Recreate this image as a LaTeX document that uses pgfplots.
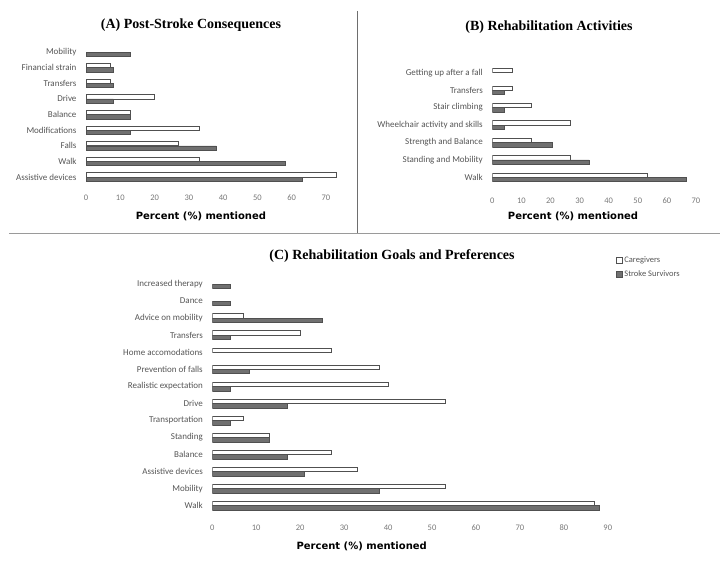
\documentclass[border=0pt]{standalone}
\usepackage{fontspec}
\setmainfont{Carlito}
\newfontfamily\titlefont{Liberation Serif}
\newfontfamily\heavyfont{DejaVu Sans}
\usepackage{pgfplots}
\pgfplotsset{compat=1.18}

\definecolor{survgray}{RGB}{112,112,112}
\definecolor{edgegray}{RGB}{80,80,80}
\definecolor{labgray}{RGB}{85,85,85}
\definecolor{numgray}{RGB}{120,120,120}
\definecolor{framegray}{RGB}{110,110,110}

\pgfplotsset{
  panel/.style={
    scale only axis,
    axis line style={draw=none},
    major tick length=0pt,
    xmin=0,
    ymin=-0.5,
    /pgf/number format/assume math mode=true,
    yticklabel style={font=\fontsize{9}{10}\selectfont, text=labgray, xshift=-6pt},
    xticklabel style={font=\fontsize{8.5}{10}\selectfont, text=numgray},
    xlabel={\heavyfont\bfseries Percent (\%) mentioned},
    x label style={font=\fontsize{10}{12}\selectfont, anchor=center},
  },
  care/.style={xbar, fill=white, draw=edgegray, line width=0.5pt},
  surv/.style={xbar, fill=survgray, draw=edgegray, line width=0.5pt},
}

\begin{document}
\begin{tikzpicture}
\useasboundingbox (0pt,0pt) rectangle (727pt,562pt);

% frame lines between the panels
\draw[framegray, line width=0.8pt] (357pt,551pt) -- (357pt,329pt);
\draw[framegray!70, line width=0.8pt] (9pt,329pt) -- (720pt,329pt);

% titles
\node[font=\titlefont\bfseries\fontsize{14}{16}\selectfont] at (191pt,537pt) {(A) Post-Stroke Consequences};
\node[font=\titlefont\bfseries\fontsize{14}{16}\selectfont] at (549pt,535pt) {(B) Rehabilitation Activities};
\node[font=\titlefont\bfseries\fontsize{14}{16}\selectfont] at (392pt,306pt) {(C) Rehabilitation Goals and Preferences};

% (A)
\begin{axis}[panel,
  at={(86pt,377.2pt)}, anchor=south west,
  width=257.1pt, height=140.6pt,
  xmax=75, ymax=8.5,
  xtick={0,10,...,70},
  ytick={0,...,8},
  yticklabels={Assistive devices,Walk,Falls,Modifications,Balance,Drive,Transfers,Financial strain,Mobility},
  xticklabel style={yshift=-6.5pt},
  x label style={at={(axis description cs:0.447,0)}, yshift=-32pt},
]
\addplot[care, bar width=0.27, bar shift=0.14] coordinates {
  (73,0) (33,1) (27,2) (33,3) (13,4) (20,5) (7,6) (7,7)
};
\addplot[surv, bar width=0.27, bar shift=-0.14] coordinates {
  (63,0) (58,1) (38,2) (13,3) (13,4) (8,5) (8,6) (8,7) (13,8)
};
\end{axis}

% (B)
\begin{axis}[panel,
  at={(492.3pt,376pt)}, anchor=south west,
  width=218.2pt, height=122pt,
  xmax=75, ymax=6.5,
  xtick={0,10,...,70},
  ytick={0,...,6},
  yticklabels={Walk,Standing and Mobility,Strength and Balance,Wheelchair activity and skills,Stair climbing,Transfers,Getting up after a fall},
  xticklabel style={yshift=-8.5pt},
  x label style={at={(axis description cs:0.37,0)}, yshift=-30pt},
]
\addplot[care, bar width=0.25, bar shift=0.125] coordinates {
  (53.3,0) (26.7,1) (13.3,2) (26.7,3) (13.3,4) (6.7,5) (6.7,6)
};
\addplot[surv, bar width=0.25, bar shift=-0.125] coordinates {
  (66.7,0) (33.3,1) (20.5,2) (4.2,3) (4.2,4) (4.2,5)
};
\end{axis}

% (C)
\begin{axis}[panel,
  at={(212.3pt,47.8pt)}, anchor=south west,
  width=439.4pt, height=238.7pt,
  xmax=100, ymax=13.5,
  xtick={0,10,...,90},
  ytick={0,...,13},
  yticklabels={Walk,Mobility,Assistive devices,Balance,Standing,Transportation,Drive,Realistic expectation,Prevention of falls,Home accomodations,Transfers,Advice on mobility,Dance,Increased therapy},
  xticklabel style={yshift=-7pt},
  x label style={at={(axis description cs:0.34,0)}, yshift=-32.5pt},
  legend style={at={(axis description cs:0.918,1.088)}, anchor=north west,
    draw=none, fill=none, font=\fontsize{8.5}{10}\selectfont, text=labgray,
    row sep=3pt, cells={anchor=west}, inner sep=0pt},
  legend image code/.code={\draw[#1, draw=edgegray, line width=0.5pt] (0pt,-3pt) rectangle (6pt,3pt);},
]
\addplot[care, bar width=0.26, bar shift=0.13] coordinates {
  (87,0) (53,1) (33,2) (27,3) (13,4) (7,5) (53,6) (40,7) (38,8) (27,9) (20,10) (7,11)
};
\addlegendentry{Caregivers}
\addplot[surv, bar width=0.26, bar shift=-0.13] coordinates {
  (88,0) (38,1) (21,2) (17,3) (13,4) (4,5) (17,6) (4,7) (8.3,8) (4,10) (25,11) (4,12) (4,13)
};
\addlegendentry{Stroke Survivors}
\end{axis}
\end{tikzpicture}
\end{document}
